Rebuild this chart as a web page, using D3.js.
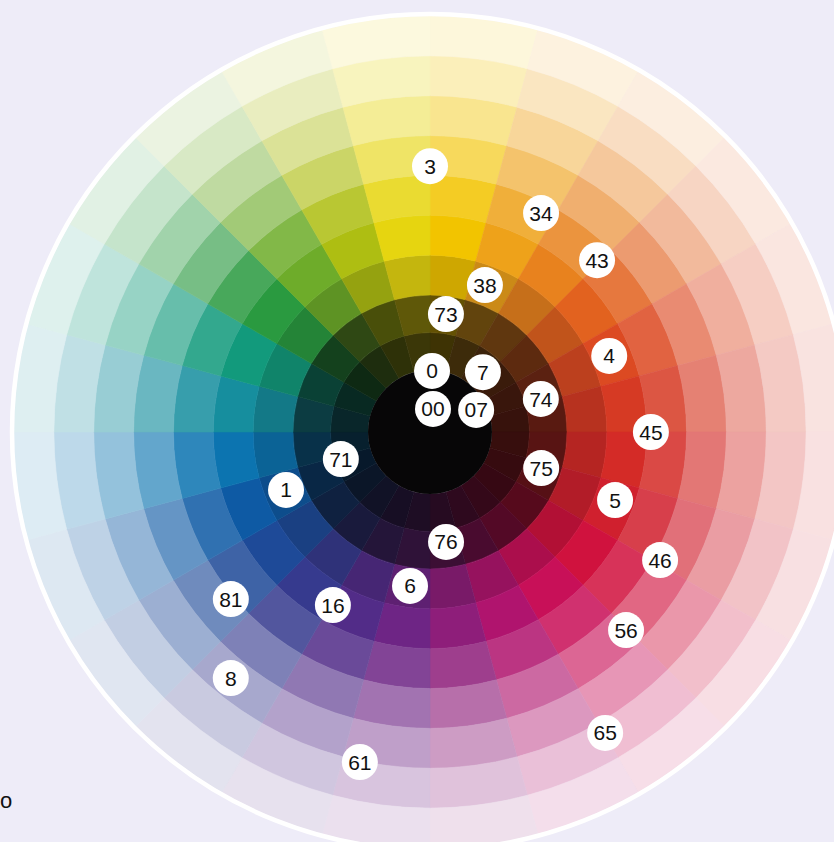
<!DOCTYPE html>
<html>
<head>
<meta charset="utf-8">
<script src="https://cdn.jsdelivr.net/npm/d3@7"></script>
<style>
  html, body { margin: 0; padding: 0; background: #eeecf8; overflow: hidden; }
  svg { display: block; }
</style>
</head>
<body>
<svg id="chart" width="834" height="842"></svg>
<script>
// ---- data ----
// 24 hue sectors, clockwise from 12 o'clock (15° each)
const sectorHues = [
  "#f2c400", "#eea21a", "#e8821e", "#e2621f", "#dc4a22", "#d63a24",
  "#d42b27", "#d0202e", "#d0123e", "#c81058", "#b0146e", "#8e1e7a",
  "#6e2585", "#522c88", "#363a8e", "#1e4a98", "#0e5aa4", "#0c74b0",
  "#168e9e", "#129a7c", "#2a9a40", "#6eac2a", "#aebe12", "#e6d510"
];
// ring tints from inside out (negative = toward black, positive = toward white)
const ringTints = [-0.76, -0.6, -0.15, 0.0, 0.14, 0.36, 0.56, 0.73, 0.86];

// labels: name, angle (degrees clockwise from top), distance (% of wheel radius)
const labelNames  = ["3", "34", "43", "38", "73", "4", "0", "7", "74", "00", "07", "45", "71",
                     "75", "1", "5", "76", "46", "6", "81", "16", "56", "8", "65", "61"];
const labelAngles = [0, 26.9, 44.2, 20.5, 7.7, 67.0, 1.9, 41.5, 73.4, 7.4, 64.4, 90.0, 253.1,
                     108.0, 248.1, 110.2, 171.7, 119.1, 187.4, 230.0, 209.3, 135.3, 219.0, 149.8, 192.0];
const labelDists  = [63.9, 59.0, 57.6, 37.7, 28.6, 46.8, 14.7, 19.2, 27.8, 5.6, 12.3, 53.1, 22.4,
                     28.1, 37.3, 47.4, 26.7, 63.3, 37.3, 62.5, 47.7, 67.0, 76.1, 83.7, 81.1];

// ---- layout ----
const cx = 430, cy = 432, R = 416;
const svg = d3.select("#chart");
const g = svg.append("g").attr("transform", `translate(${cx},${cy})`);

const angle = d3.scaleLinear().domain([0, 360]).range([0, 2 * Math.PI]);
const sectorAngle = d3.scaleLinear().domain([0, sectorHues.length]).range([0, 2 * Math.PI]);
// ring index -> radius (0: center, 1: black core edge, 3: dark band edge, 10: rim)
const ringRadius = d3.scaleLinear().domain([0, 1, 3, 3 + 7]).range([0, 62, 137, R]);
const dist = d3.scaleLinear().domain([0, 100]).range([0, R]);

function tint(base, t) {
  if (t < 0) return d3.interpolateRgb(base, "#050505")(-t);
  return d3.interpolateRgb(base, "#ffffff")(t);
}

const cells = [];
sectorHues.forEach((h, i) => {
  ringTints.forEach((t, j) => {
    cells.push({ i, j, color: tint(h, t) });
  });
});

const arc = d3.arc()
  .innerRadius(d => ringRadius(d.j + 1))
  .outerRadius(d => ringRadius(d.j + 2))
  .startAngle(d => sectorAngle(d.i))
  .endAngle(d => sectorAngle(d.i + 1));

g.selectAll("path.cell")
  .data(cells)
  .enter().append("path")
  .attr("class", "cell")
  .attr("d", arc)
  .attr("fill", d => d.color)
  .attr("stroke", d => d.color)
  .attr("stroke-width", 0.6);

// black core
g.append("circle").attr("r", ringRadius(1)).attr("fill", "#070607");

// white rim
g.append("circle").attr("r", R + 2).attr("fill", "none")
  .attr("stroke", "#ffffff").attr("stroke-width", 4.5);

// labels
const labels = labelNames.map((n, k) => ({ name: n, a: labelAngles[k], d: labelDists[k] }));
const lg = g.selectAll("g.lab")
  .data(labels)
  .enter().append("g")
  .attr("class", "lab")
  .attr("transform", d => {
    const a = angle(d.a), r = dist(d.d);
    return `translate(${r * Math.sin(a)},${-r * Math.cos(a)})`;
  });
lg.append("circle").attr("r", 18).attr("fill", "#ffffff");
lg.append("text")
  .attr("text-anchor", "middle")
  .attr("dy", "0.36em")
  .attr("font-family", "'Liberation Sans', Arial, sans-serif")
  .attr("font-size", 21)
  .attr("fill", "#111")
  .text(d => d.name);

// stray glyph at bottom-left edge
svg.append("text")
  .attr("x", 0).attr("y", 808)
  .attr("font-family", "'Liberation Sans', Arial, sans-serif")
  .attr("font-size", 22)
  .attr("fill", "#111")
  .text("o");
</script>
</body>
</html>
